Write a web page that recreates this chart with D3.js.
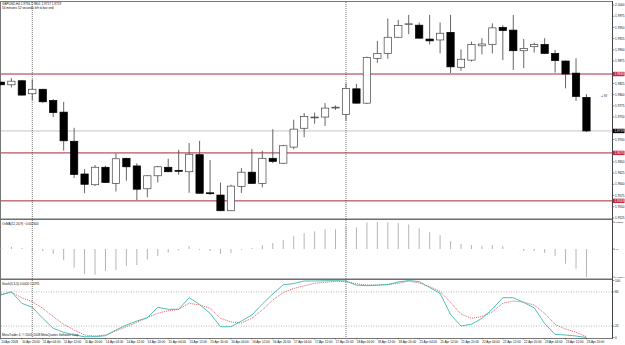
<!DOCTYPE html>
<html>
<head>
<meta charset="utf-8">
<script src="https://cdn.jsdelivr.net/npm/d3@7"></script>
<style>
body { margin: 0; background: #fff; }
svg { display: block; font-family: "Liberation Sans", Arial, sans-serif; }
</style>
</head>
<body>
<div id="chart"></div>
<script>
// GBPUSD H4 bars, 10 Apr 2008 12:00 .. 23 Apr 2008 20:00
const open  = [1.9828,1.9822,1.9831,1.9802,1.9812,1.9787,1.9761,1.9696,1.9623,1.9599,1.9638,1.9602,1.9658,1.9641,1.9590,1.9619,1.9638,1.9631,1.9628,1.9666,1.9581,1.9576,1.9541,1.9595,1.9627,1.9602,1.9658,1.9647,1.9683,1.9725,1.9749,1.9750,1.9771,1.9756,1.9813,1.9781,1.9881,1.9892,1.9928,1.9957,1.9955,1.9924,1.9922,1.9939,1.9861,1.9877,1.9909,1.9912,1.9950,1.9944,1.9898,1.9907,1.9912,1.9892,1.9875,1.9848,1.9794];
const high  = [1.9829,1.9837,1.9833,1.9834,1.9813,1.9790,1.9784,1.9726,1.9634,1.9643,1.9641,1.9669,1.9659,1.9647,1.9620,1.9641,1.9657,1.9677,1.9692,1.9697,1.9654,1.9604,1.9599,1.9636,1.9679,1.9675,1.9723,1.9688,1.9744,1.9759,1.9760,1.9781,1.9776,1.9825,1.9824,1.9885,1.9920,1.9970,1.9967,1.9978,1.9961,1.9978,1.9961,1.9978,1.9901,1.9918,1.9926,1.9959,1.9955,1.9978,1.9924,1.9916,1.9926,1.9900,1.9876,1.9881,1.9801];
const low   = [1.9821,1.9816,1.9798,1.9788,1.9782,1.9750,1.9675,1.9614,1.9580,1.9596,1.9603,1.9584,1.9608,1.9565,1.9571,1.9604,1.9627,1.9621,1.9581,1.9579,1.9576,1.9540,1.9540,1.9581,1.9601,1.9593,1.9647,1.9645,1.9678,1.9705,1.9735,1.9730,1.9766,1.9742,1.9780,1.9779,1.9871,1.9880,1.9927,1.9935,1.9925,1.9912,1.9892,1.9848,1.9853,1.9874,1.9890,1.9892,1.9877,1.9855,1.9859,1.9894,1.9891,1.9849,1.9814,1.9786,1.9717];
const close = [1.9822,1.9830,1.9799,1.9812,1.9784,1.9760,1.9697,1.9622,1.9600,1.9638,1.9604,1.9657,1.9639,1.9589,1.9619,1.9639,1.9628,1.9629,1.9667,1.9580,1.9579,1.9541,1.9596,1.9627,1.9602,1.9658,1.9651,1.9686,1.9723,1.9751,1.9750,1.9770,1.9772,1.9814,1.9781,1.9883,1.9892,1.9928,1.9954,1.9958,1.9926,1.9920,1.9937,1.9862,1.9879,1.9912,1.9913,1.9949,1.9943,1.9898,1.9903,1.9912,1.9892,1.9876,1.9846,1.9796,1.9719];

const osma = [0.00009,0.00021,0.00009,-0.00009,-0.00021,-0.00046,-0.00105,-0.00176,-0.00238,-0.00244,-0.00207,-0.00201,-0.00161,-0.00151,-0.00099,-0.00068,-0.00034,-0.00012,0.00028,-0.00009,-0.00019,-0.00046,-0.00037,-0.00009,0.00009,0.00037,0.00056,0.00084,0.00121,0.00148,0.00167,0.00186,0.00186,0.00213,0.00204,0.00251,0.002551,0.00252,0.00246,0.00232,0.00195,0.00158,0.00130,0.00074,0.00046,0.00037,0.00028,0.00037,0.00028,0.00002,-0.00019,-0.00019,-0.00037,-0.00065,-0.00139,-0.00186,-0.002644];

const stochMain   = [74.6,80.4,60,53,33.7,16.1,9.1,4.4,1.4,1.4,3.2,13.2,21.9,28.9,34.7,53,49.5,49.5,69.8,57.9,42.5,18.9,18.9,28.9,39.5,58.8,76.3,92.5,94.6,99.1,99.1,99.6,99.6,99.1,91.8,90.9,91.9,92.8,97.4,99.8,98.2,87.7,77.5,40.4,20.2,23.2,33.5,50,69.8,69.8,61.4,52.1,24.6,5.4,4.4,2.6,0];
const stochSignal = [75.8,79.3,69.8,62.8,51.2,36.5,23.2,13.2,4.4,2.6,4.4,11.4,18.9,26.7,34.7,42.5,47,49.5,60,57,51.2,33.7,27.2,25.4,33.7,48.2,65.8,78.9,86,90.7,95.1,96.8,98.6,98.2,94.2,92.1,92.1,92.8,95.1,99.1,95.6,89.3,80.9,61.4,41.2,33.7,36.7,45.1,60,64,61.8,57,42.5,22.8,14.9,9.1,1.4291];

// time labels, one per two bars
const timeLabels = ["10 Apr 2008","10 Apr 20:00","11 Apr 04:00","11 Apr 12:00","11 Apr 20:00","14 Apr 04:00","14 Apr 12:00","14 Apr 20:00","15 Apr 04:00","15 Apr 12:00","15 Apr 20:00","16 Apr 04:00","16 Apr 12:00","16 Apr 20:00","17 Apr 04:00","17 Apr 12:00","17 Apr 20:00","18 Apr 04:00","18 Apr 12:00","18 Apr 20:00","21 Apr 04:00","21 Apr 12:00","21 Apr 20:00","22 Apr 04:00","22 Apr 12:00","22 Apr 20:00","23 Apr 04:00","23 Apr 12:00","23 Apr 20:00"];

const priceTicks = [2.0000,1.9975,1.9950,1.9925,1.9900,1.9875,1.9850,1.9825,1.9800,1.9775,1.9750,1.9725,1.9700,1.9675,1.9650,1.9625,1.9600,1.9575,1.9550,1.9525];
const redLevels = [1.9846, 1.9670, 1.9563];
const separatorBars = [3, 33]; // dotted vertical lines
const osmaTicks = [0.002551, 0, -0.002644];
const stochTicks = [100, 80, 20, 0];
const stochLevels = [80, 20];

const width = 625, height = 345;
const axisX = 612.5;
const n = open.length;
const lastBid = close[n - 1];

const svg = d3.select('#chart').append('svg')
    .attr('width', width)
    .attr('height', height)
    .attr('viewBox', [0, 0, width, height]);

const x = d3.scaleBand(d3.range(n), [-4.3, 591.7])
    .paddingInner(0.3)
    .paddingOuter(0.15);
const cx = i => x(i) + x.bandwidth() / 2;

const y = d3.scaleLinear([1.9550, 2.0000], [206.7, 5]);
const yOsma = d3.scaleLinear([-0.002644, 0.002551], [277, 222]);
const yStoch = d3.scaleLinear([0, 100], [337.5, 280.5]);

// frame
svg.append('rect')
    .attr('x', 0.5).attr('y', 1.5)
    .attr('width', axisX - 0.5).attr('height', 337)
    .attr('fill', 'none').attr('stroke', '#777').attr('stroke-width', 1);

// panel splitters
[[218.5, 220], [278.5, 280]].forEach(([a, b]) => {
    svg.append('rect')
        .attr('x', 0).attr('y', a)
        .attr('width', axisX).attr('height', b - a)
        .attr('fill', '#6e6e6e');
});

// bid line
svg.append('line')
    .attr('x1', 1).attr('x2', axisX)
    .attr('y1', y(lastBid)).attr('y2', y(lastBid))
    .attr('stroke', '#c4c4c4').attr('stroke-width', 1);

// horizontal levels
svg.append('g').selectAll('line')
    .data(redLevels)
    .join('line')
    .attr('x1', 1).attr('x2', axisX)
    .attr('y1', d => y(d)).attr('y2', d => y(d))
    .attr('stroke', '#a8283a').attr('stroke-width', 1);

// separators
svg.append('g').selectAll('line')
    .data(separatorBars)
    .join('line')
    .attr('x1', d => cx(d)).attr('x2', d => cx(d))
    .attr('y1', 2).attr('y2', 338)
    .attr('stroke', '#333').attr('stroke-width', 0.7)
    .attr('stroke-dasharray', '1,1');

// candles
const bars = d3.range(n);
const candle = svg.append('g').selectAll('g')
    .data(bars)
    .join('g');

candle.append('line')
    .attr('x1', i => cx(i)).attr('x2', i => cx(i))
    .attr('y1', i => y(high[i])).attr('y2', i => y(low[i]))
    .attr('stroke', '#555').attr('stroke-width', 0.9);

candle.append('rect')
    .attr('x', i => x(i))
    .attr('width', x.bandwidth())
    .attr('y', i => y(Math.max(open[i], close[i])))
    .attr('height', i => Math.max(0.8, Math.abs(y(open[i]) - y(close[i]))))
    .attr('fill', i => close[i] >= open[i] ? '#fff' : '#000')
    .attr('stroke', i => close[i] >= open[i] ? '#444' : '#000')
    .attr('stroke-width', 0.7);

// OsMA histogram
svg.append('g').selectAll('line')
    .data(bars)
    .join('line')
    .attr('x1', i => cx(i)).attr('x2', i => cx(i))
    .attr('y1', yOsma(0)).attr('y2', i => yOsma(osma[i]))
    .attr('stroke', '#b4b4b4').attr('stroke-width', 1);

// stochastic
svg.append('g').selectAll('line')
    .data(stochLevels)
    .join('line')
    .attr('x1', 1).attr('x2', axisX)
    .attr('y1', d => yStoch(d)).attr('y2', d => yStoch(d))
    .attr('stroke', '#aaa').attr('stroke-width', 0.8)
    .attr('stroke-dasharray', '1,1.5');

const stochLine = arr => d3.line()
    .x(i => cx(i))
    .y(i => yStoch(arr[i]))(bars);

svg.append('path')
    .attr('d', stochLine(stochSignal))
    .attr('fill', 'none')
    .attr('stroke', '#d84a55').attr('stroke-width', 0.9)
    .attr('stroke-dasharray', '1,1');

svg.append('path')
    .attr('d', stochLine(stochMain))
    .attr('fill', 'none')
    .attr('stroke', '#3cb8b0').attr('stroke-width', 0.9);

// right axis
svg.append('line')
    .attr('x1', axisX).attr('x2', axisX)
    .attr('y1', 1).attr('y2', 338.5)
    .attr('stroke', '#444').attr('stroke-width', 1);

const fmt4 = d3.format('.4f');
const boxValues = redLevels.concat([lastBid]);
const axisText = (vals, scale, fmt, size, dx) => {
    const g = svg.append('g');
    g.selectAll('line')
        .data(vals)
        .join('line')
        .attr('x1', axisX).attr('x2', axisX + 2)
        .attr('y1', d => scale(d)).attr('y2', d => scale(d))
        .attr('stroke', '#444').attr('stroke-width', 0.6);
    g.selectAll('text')
        .data(vals)
        .join('text')
        .attr('x', axisX + dx)
        .attr('y', d => scale(d) + 1.1)
        .attr('font-size', size)
        .attr('fill', '#111')
        .text(fmt);
};
// price labels that would sit under a price box are skipped
axisText(priceTicks.filter(t => boxValues.every(b => Math.abs(y(t) - y(b)) > 4.4)), y, fmt4, 3.1, 2.6);
axisText(osmaTicks, yOsma, d => d === 0 ? '0.00' : d3.format('.6f')(d), 2.2, 1.6);
axisText(stochTicks, yStoch, d => String(d), 3.1, 2.6);

// price boxes on the axis
const priceBox = (value, fill) => {
    svg.append('rect')
        .attr('x', axisX + 0.5).attr('y', y(value) - 2.2)
        .attr('width', 11.5).attr('height', 4.4)
        .attr('fill', fill);
    svg.append('text')
        .attr('x', axisX + 2).attr('y', y(value) + 1.1)
        .attr('font-size', 3.1).attr('fill', '#fff')
        .text(fmt4(value));
};
redLevels.forEach(v => priceBox(v, '#c0283e'));
priceBox(lastBid, '#000');

// order arrow near the axis
svg.append('text')
    .attr('x', 601).attr('y', y(1.9798) + 1)
    .attr('font-size', 3).attr('fill', '#444')
    .text('\u25C2 88');

// time axis
const timeG = svg.append('g');
timeG.selectAll('line')
    .data(timeLabels)
    .join('line')
    .attr('x1', (d, k) => cx(k * 2)).attr('x2', (d, k) => cx(k * 2))
    .attr('y1', 338).attr('y2', 339.5)
    .attr('stroke', '#444').attr('stroke-width', 0.5);
timeG.selectAll('text')
    .data(timeLabels)
    .join('text')
    .attr('x', (d, k) => cx(k * 2) + 0.3)
    .attr('y', 342.8)
    .attr('font-size', 3.1)
    .attr('fill', '#111')
    .text(d => d);

// panel captions
const caption = (txt, yy) => svg.append('text')
    .attr('x', 2).attr('y', yy)
    .attr('font-size', 3.1).attr('fill', '#111')
    .text(txt);
caption(`GBPUSD,H4  ${fmt4(open[n - 1])} ${fmt4(high[n - 1])} ${fmt4(low[n - 1])} ${fmt4(lastBid)}`, 5.2);
caption('56 minutes 52 seconds left to bar end', 8.6);
caption(`OsMA(12,26,9) ${d3.format('.6f')(osma[n - 1])}`, 224.8);
caption(`Stoch(5,3,3) ${d3.format('.4f')(stochMain[n - 1])} ${d3.format('.4f')(stochSignal[n - 1])}`, 284.8);
caption('MetaTrader 4, \u00A9 2001-2008 MetaQuotes Software Corp.', 336);
</script>
</body>
</html>
